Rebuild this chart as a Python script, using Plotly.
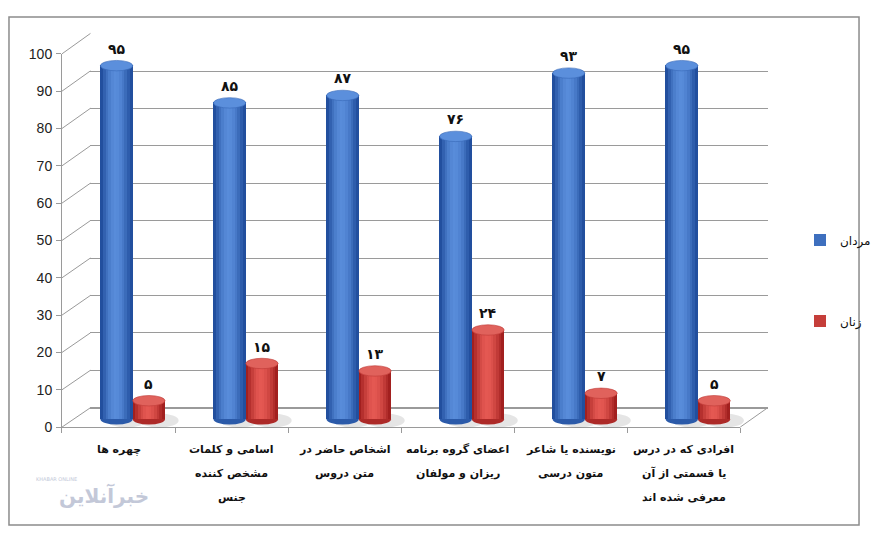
import plotly.graph_objects as go

# category names, one list item per printed line
categories = [
    ["چهره ها"],
    ["اسامی و کلمات", "مشخص کننده", "جنس"],
    ["اشخاص حاضر در", "متن دروس"],
    ["اعضای گروه برنامه", "ریزان و مولفان"],
    ["نویسنده یا شاعر", "متون درسی"],
    ["افرادی که در درس", "یا قسمتی از آن", "معرفی شده اند"],
]
series_names = ["مردان", "زنان"]
men = [95, 85, 87, 76, 93, 95]
women = [5, 15, 13, 24, 7, 5]
y_ticks = list(range(0, 101, 10))

# the page body keeps its 8px margin, so the figure is that much smaller
PAGE_W, PAGE_H, BODY = 884, 542, 8
W, H = PAGE_W - 2 * BODY, PAGE_H - 2 * BODY
FA_DIGITS = str.maketrans("0123456789", "۰۱۲۳۴۵۶۷۸۹")
FONT = "DejaVu Sans"
GRID = "#9a9a9a"
CLEAR = "rgba(0,0,0,0)"


def px(x):
    return (x - BODY) / W


def py(y):
    return (H - (y - BODY)) / H


def mix(c0, c1, t):
    return "rgb(%d,%d,%d)" % tuple(round(a + (b - a) * t) for a, b in zip(c0, c1))


# geometry of the fake 3d box (page pixels)
front = dict(x0=63, x1=754, y0=432, y100=47)
back = dict(x0=92, x1=782, y0=412, y100=26)

styles = [
    dict(dark=(24, 68, 148), light=(88, 140, 218), top="#5b8fdc", off=-0.143),
    dict(dark=(150, 22, 22), light=(228, 88, 82), top="#e0625c", off=0.143),
]
bar_w = 0.286
strip_mix = [0.15, 0.4, 0.62, 0.8, 0.93, 1.0, 0.97, 0.88, 0.74, 0.55, 0.35, 0.15]
n_strips = len(strip_mix)
x_idx = list(range(len(categories)))

fig = go.Figure()

# helper traces so the back wall (x/y) and front axes (x2/y2) get drawn
fig.add_trace(go.Scatter(x=x_idx, y=men, xaxis="x", yaxis="y", mode="markers",
                         marker=dict(opacity=0), showlegend=False, hoverinfo="skip"))
fig.add_trace(go.Scatter(x=x_idx, y=men, xaxis="x2", yaxis="y2", mode="markers",
                         marker=dict(opacity=0), showlegend=False, hoverinfo="skip"))

# cylinders, built from vertical strips on the mid-depth plane (x3/y3)
for values, name, st in zip([men, women], series_names, styles):
    left = st["off"] - bar_w / 2
    fig.add_trace(go.Bar(x=x_idx, y=values, width=bar_w, offset=left, name=name,
                         legendgroup=name, xaxis="x3", yaxis="y3",
                         marker=dict(color=mix(st["dark"], st["light"], 0.6), line=dict(width=0)),
                         hoverinfo="skip"))
    sw = bar_w / n_strips
    for k, m in enumerate(strip_mix):
        fig.add_trace(go.Bar(x=x_idx, y=values, width=sw * 1.05, offset=left + k * sw,
                             legendgroup=name, showlegend=False, xaxis="x3", yaxis="y3",
                             marker=dict(color=mix(st["dark"], st["light"], m), line=dict(width=0)),
                             hoverinfo="skip"))

shapes = []
annotations = []

# cylinder caps, bottoms, floor shadows and value labels
cap_h = 1.4
for values, st in zip([men, women], styles):
    for i, v in enumerate(values):
        cx = i + st["off"]
        shapes.append(dict(type="circle", xref="x3", yref="y3", layer="between",
                           x0=cx - bar_w / 2 + 0.06, x1=cx + bar_w / 2 + 0.12, y0=-2.2, y1=1.6,
                           fillcolor="rgba(0,0,0,0.10)", line=dict(width=0)))
        shapes.append(dict(type="circle", xref="x3", yref="y3", layer="between",
                           x0=cx - bar_w / 2, x1=cx + bar_w / 2, y0=-cap_h, y1=cap_h,
                           fillcolor=mix(st["dark"], st["light"], 0.3), line=dict(width=0)))
        shapes.append(dict(type="circle", xref="x3", yref="y3", layer="above",
                           x0=cx - bar_w / 2, x1=cx + bar_w / 2, y0=v - cap_h, y1=v + cap_h,
                           fillcolor=st["top"], line=dict(color=mix(st["dark"], st["light"], 0.5), width=0.6)))
        annotations.append(dict(xref="x3", yref="y3", x=cx, y=v, yshift=17, showarrow=False,
                                text="<b>%s</b>" % str(v).translate(FA_DIGITS),
                                font=dict(family=FONT, size=14, color="#111111")))

# left side wall diagonals
for t in y_ticks:
    yf = front["y0"] + (front["y100"] - front["y0"]) * t / 100
    yb = back["y0"] + (back["y100"] - back["y0"]) * t / 100
    shapes.append(dict(type="line", xref="paper", yref="paper", layer="below",
                       x0=px(front["x0"]), y0=py(yf), x1=px(back["x0"]), y1=py(yb),
                       line=dict(color=GRID, width=1)))
# right floor edge
shapes.append(dict(type="line", xref="paper", yref="paper", layer="below",
                   x0=px(front["x1"]), y0=py(front["y0"]), x1=px(back["x1"]), y1=py(back["y0"]),
                   line=dict(color=GRID, width=1)))
# chart border
shapes.append(dict(type="rect", xref="paper", yref="paper", layer="below",
                   x0=px(9), y0=py(533), x1=px(875), y1=py(9),
                   line=dict(color="#8c8c8c", width=1.5)))

# category labels under the floor
for i, lines in enumerate(categories):
    for j, line in enumerate(lines):
        annotations.append(dict(xref="x2", yref="paper", x=i, y=py(464 + 24.5 * j),
                                text="<b>%s</b>" % line, showarrow=False,
                                font=dict(family=FONT, size=11, color="#111111")))

# faint watermark
annotations.append(dict(xref="paper", yref="paper", x=px(58), y=py(518), showarrow=False,
                        text="<b>خبرآنلاین</b>", font=dict(family=FONT, size=20, color="#c3c8d8")))
annotations.append(dict(xref="paper", yref="paper", x=px(34), y=py(491), showarrow=False,
                        text="KHABAR ONLINE", font=dict(family=FONT, size=5, color="#c3c8d8")))

mid_y0, mid_scale = 424, 3.84
fig.update_layout(
    width=W, height=H, margin=dict(l=0, r=0, t=0, b=0),
    plot_bgcolor=CLEAR, paper_bgcolor="white",
    barmode="overlay", bargap=0,
    # back wall
    xaxis=dict(domain=[px(back["x0"]), px(back["x1"])], range=[-0.5, 5.5], visible=False),
    yaxis=dict(domain=[py(back["y0"]), py(back["y100"])], range=[0, 100.1],
               tickvals=y_ticks, showticklabels=False, ticks="", showgrid=True,
               gridcolor=GRID, gridwidth=1, zeroline=True, zerolinecolor=GRID, showline=False),
    # front edge with the value axis
    xaxis2=dict(domain=[px(front["x0"]), px(front["x1"])], range=[-0.5, 5.5], anchor="y2",
                tickvals=[i - 0.5 for i in range(len(categories) + 1)], showticklabels=False,
                ticks="outside", ticklen=5, tickcolor=GRID, showgrid=False, zeroline=False,
                showline=True, linecolor=GRID, linewidth=1),
    yaxis2=dict(domain=[py(front["y0"]), py(front["y100"])], range=[0, 100], anchor="x2",
                tickvals=y_ticks, ticks="outside", ticklen=5, tickcolor=GRID,
                showgrid=False, zeroline=False, showline=True, linecolor=GRID, linewidth=1,
                ticklabelstandoff=1,
                tickfont=dict(family="Liberation Sans", size=14, color="#222222")),
    # mid-depth plane for the cylinders
    xaxis3=dict(domain=[px(77.5), px(768.5)], range=[-0.5, 5.5], anchor="y3", visible=False),
    yaxis3=dict(domain=[py(mid_y0 + 5 * mid_scale), py(mid_y0 - 105 * mid_scale)],
                range=[-5, 105], anchor="x3", visible=False),
    legend=dict(x=px(815), y=py(224), xanchor="left", yanchor="top",
                tracegroupgap=62, bgcolor=CLEAR,
                font=dict(family=FONT, size=12, color="#111111")),
    shapes=shapes, annotations=annotations,
    showlegend=True,
)

fig.write_html("out.html")
